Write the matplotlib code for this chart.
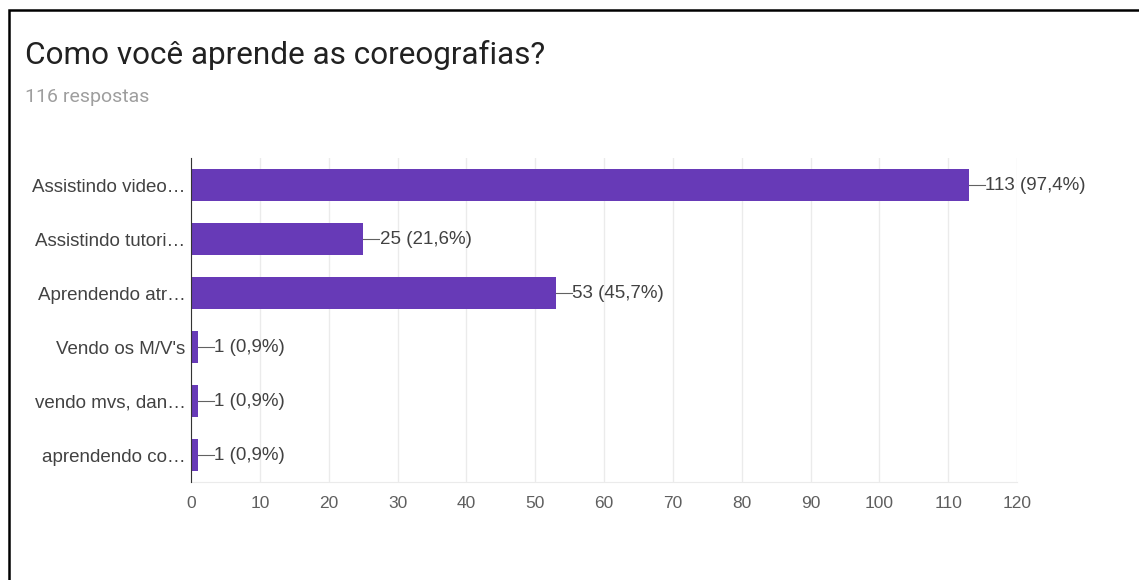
# -*- coding: utf-8 -*-
import numpy as np
import matplotlib.pyplot as plt
from matplotlib.patches import Rectangle

categorias = ["Assistindo video…", "Assistindo tutori…", "Aprendendo atr…",
              "Vendo os M/V's", "vendo mvs, dan…", "aprendendo co…"]
valores = [113, 25, 53, 1, 1, 1]
rotulos = ["113 (97,4%)", "25 (21,6%)", "53 (45,7%)", "1 (0,9%)", "1 (0,9%)", "1 (0,9%)"]
xticks = list(range(0, 121, 10))

plt.rcParams['font.family'] = ['Roboto', 'DejaVu Sans']
arial = ['Liberation Sans', 'DejaVu Sans']

fig = plt.figure(figsize=(11.39, 5.80), dpi=100)
fig.patches.append(Rectangle((9 / 1139, -0.1), 1.2, 1 - 10 / 580 + 0.1, transform=fig.transFigure,
                             fill=False, edgecolor='black', linewidth=1.8))
fig.text(25 / 1139, 1 - 55 / 580, "Como você aprende as coreografias?", fontsize=22.7, color='#212121',
         va='center', ha='left')
fig.text(25 / 1139, 1 - 97 / 580, "116 respostas", fontsize=14, color='#9e9e9e', va='center', ha='left')

ax = fig.add_axes([191 / 1139, 1 - 482 / 580, 826 / 1139, 324 / 580])
y = np.arange(len(categorias))
ax.barh(y, valores, height=0.6, color='#673AB7', zorder=3)
ax.set_ylim(len(categorias) - 0.5, -0.5)
ax.set_xlim(0, 120)
ax.set_xticks(xticks)
ax.set_yticks(y)
ax.set_yticklabels(categorias, fontsize=13.5, color='#424242', family=arial)
ax.set_xticklabels([str(t) for t in xticks], fontsize=12.5, color='#5f5f5f', family=arial)
ax.tick_params(axis='x', length=0, pad=10)
ax.tick_params(axis='y', length=0, pad=4)
ax.grid(axis='x', color='#ebebeb', linewidth=1, zorder=0)
for s in ['top', 'right']:
    ax.spines[s].set_visible(False)
ax.spines['bottom'].set_color('#ebebeb')
ax.spines['left'].set_color('#333333')
ax.spines['left'].set_zorder(4)

for yi, v, r in zip(y, valores, rotulos):
    ax.plot([v, v + 2.3], [yi, yi], color='#616161', linewidth=0.8, zorder=4)
    ax.text(v + 2.4, yi, r, fontsize=13.5, color='#424242', va='center', ha='left', family=arial)

fig.savefig('out.png', dpi=100)
